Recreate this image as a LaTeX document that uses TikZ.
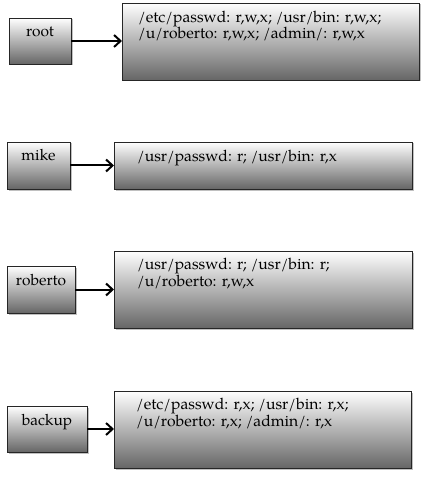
\documentclass[tikz,border=0pt]{standalone}
\usepackage{fontspec}
\setmainfont{TeX Gyre Pagella}
\usetikzlibrary{arrows.meta,shadows,calc}
\begin{document}
\begin{tikzpicture}[x=1pt,y=-1pt,
  box/.style={draw=black!85,line width=0.8pt,rectangle,inner sep=0pt,outer sep=0pt,
    top color=white,bottom color=black!60,
    drop shadow={shadow xshift=1.5pt,shadow yshift=-1.5pt,opacity=0.45,fill=black!55}},
  lbl/.style={font=\fontsize{15.5pt}{15.7pt}\selectfont,anchor=base,inner sep=0pt},
  acl/.style={font=\fontsize{15.7pt}{15.7pt}\selectfont,anchor=base west,align=left,inner sep=0pt},
  link/.style={line width=2pt,-{Straight Barb[length=6.5pt,width=12pt,line width=2pt]}}]
\useasboundingbox (0,0) rectangle (438,494);
% root
\node[box,minimum width=62pt,minimum height=46pt] (rootu) at (40,41) {};
\node[box,minimum width=297pt,minimum height=77pt] (roota) at (270.5,41.5) {};
\node[lbl] (rootl) at ($(rootu.north)+(0,19)$) {root};
\node[acl] (roott) at ($(roota.north west)+(16,36)$) {/etc/passwd: r,w,x; /usr/bin: r,w,x;\\/u/roberto: r,w,x; /admin/: r,w,x};
\draw[link] (rootu.east) -- (rootu.east -| roota.west);
% mike
\node[box,minimum width=63pt,minimum height=47pt] (mikeu) at (38.5,165.5) {};
\node[box,minimum width=298pt,minimum height=47pt] (mikea) at (263,165.5) {};
\node[lbl] (mikel) at ($(mikeu.north)+(0,19)$) {mike};
\node[acl] (miket) at ($(mikea.north west)+(23,20)$) {/usr/passwd: r; /usr/bin: r,x};
\draw[link] (mikeu.east) -- (mikeu.east -| mikea.west);
% roberto
\node[box,minimum width=68pt,minimum height=47pt] (robu) at (41,289.5) {};
\node[box,minimum width=298pt,minimum height=77pt] (roba) at (263,289.5) {};
\node[lbl] (robl) at ($(robu.north)+(0,19)$) {roberto};
\node[acl] (robt) at ($(roba.north west)+(23,35.7)$) {/usr/passwd: r; /usr/bin: r;\\/u/roberto: r,w,x};
\draw[link] (robu.east) -- (robu.east -| roba.west);
% backup
\node[box,minimum width=80pt,minimum height=46pt] (bku) at (47,429) {};
\node[box,minimum width=297pt,minimum height=77pt] (bka) at (262.5,429.5) {};
\node[lbl] (bkl) at ($(bku.north)+(0,19)$) {backup};
\node[acl] (bkt) at ($(bka.north west)+(22,35.7)$) {/etc/passwd: r,x; /usr/bin: r,x;\\/u/roberto: r,x; /admin/: r,x};
\draw[link] (bku.east) -- (bku.east -| bka.west);
\end{tikzpicture}
\end{document}
